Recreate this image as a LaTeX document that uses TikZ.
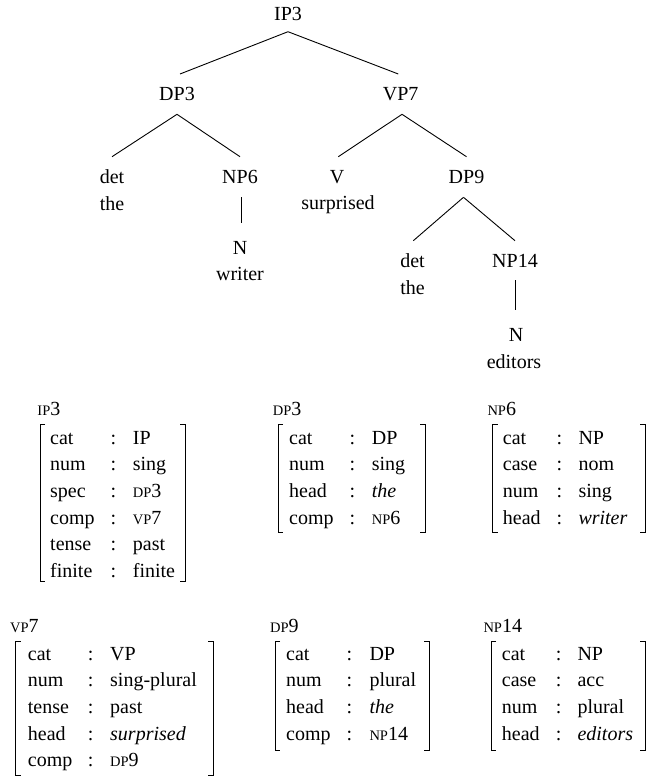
\documentclass[tikz,border=0pt]{standalone}
\usepackage{fontspec}
\setmainfont{Liberation Serif}
\newcommand\fsc[1]{{\fontsize{14.5}{16}\selectfont #1}}
% rows of a feature structure: name, attr x, colon x, value x, first baseline, list
\newcommand\fsrows[6]{%
  \foreach \a/\v [count=\i from 0] in {#6} {
    \node[fs, anchor=base west] (#1a\i) at (#2, {#5+26.67*\i}) {\a};
    \node[fs, anchor=base] (#1c\i) at (#3, {#5+26.67*\i}) {:};
    \node[fs, anchor=base west] (#1v\i) at (#4, {#5+26.67*\i}) {\v};
  }}
% brackets: left x, right x, top y, bottom y
\newcommand\fsbrk[4]{%
  \draw[brk] ({#1+5},#3) -- (#1,#3) -- (#1,#4) -- ({#1+5},#4);
  \draw[brk] ({#2-5},#3) -- (#2,#3) -- (#2,#4) -- ({#2-5},#4);}
\begin{document}
\begin{tikzpicture}[x=1pt, y=-1pt,
  tn/.style={font=\fontsize{20}{24}\selectfont, inner sep=0pt, anchor=base},
  fs/.style={font=\fontsize{20}{24}\selectfont, inner sep=0pt},
  edge/.style={line width=0.9pt},
  brk/.style={line width=1pt}]
\useasboundingbox (0,0) rectangle (648,777);

% ---- tree ----
\node[tn] (ip3) at (288,20.7) {IP3};
\node[tn] (dp3) at (177,100) {DP3};
\node[tn] (vp7) at (400.7,100) {VP7};
\node[tn] (det1) at (112,183.3) {det};
\node[tn] (the1) at (112,210) {the};
\node[tn] (np6) at (240,183.3) {NP6};
\node[tn] (n1) at (240,254) {N};
\node[tn] (writer) at (240,280.7) {writer};
\node[tn] (v) at (337,183.3) {V};
\node[tn] (surprised) at (338,209.3) {surprised};
\node[tn] (dp9) at (466.5,183.3) {DP9};
\node[tn] (det2) at (412.5,267.3) {det};
\node[tn] (the2) at (412.5,294) {the};
\node[tn] (np14) at (515,267.3) {NP14};
\node[tn] (n2) at (516,341.7) {N};
\node[tn] (editors) at (514,368.3) {editors};

\draw[edge] ([yshift=-11pt]ip3.base) -- ([xshift=3pt,yshift=26pt]dp3.base);
\draw[edge] ([yshift=-11pt]ip3.base) -- ([xshift=-2.4pt,yshift=26pt]vp7.base);
\draw[edge] ([yshift=-14.3pt]dp3.base) -- ([yshift=26.6pt]det1.base);
\draw[edge] ([yshift=-14.3pt]dp3.base) -- ([yshift=26.6pt]np6.base);
\draw[edge] ([xshift=1.3pt,yshift=-14.3pt]vp7.base) -- ([xshift=1.3pt,yshift=26.6pt]v.base);
\draw[edge] ([xshift=1.3pt,yshift=-14.3pt]vp7.base) -- ([yshift=26.6pt]dp9.base);
\draw[edge] ([xshift=1pt,yshift=-14pt]np6.base) -- ([xshift=1pt,yshift=30.7pt]n1.base);
\draw[edge] ([xshift=-3pt,yshift=-14pt]dp9.base) -- ([xshift=0.8pt,yshift=26.6pt]det2.base);
\draw[edge] ([xshift=-3pt,yshift=-14pt]dp9.base) -- ([yshift=26.6pt]np14.base);
\draw[edge] ([yshift=-13pt]np14.base) -- ([xshift=-1pt,yshift=31.7pt]n2.base);

% ---- feature structures ----
\node[fs, anchor=base west] (lip3) at (37.3,415) {\fsc{IP}3};
\fsbrk{40}{185}{424}{581}
\fsrows{ip}{50}{113.3}{132.7}{444}{cat/IP, num/sing, spec/\fsc{DP}3, comp/\fsc{VP}7, tense/past, finite/finite}

\node[fs, anchor=base west] (ldp3) at (272.7,415) {\fsc{DP}3};
\fsbrk{278}{425}{424}{532}
\fsrows{dpa}{289}{352.3}{371.7}{444}{cat/DP, num/sing, head/\textit{the}, comp/\fsc{NP}6}

\node[fs, anchor=base west] (lnp6) at (487.3,415) {\fsc{NP}6};
\fsbrk{492.7}{645}{424}{532}
\fsrows{npa}{502.7}{559.3}{578.3}{444}{cat/NP, case/nom, num/sing, head/\textit{writer}}

\node[fs, anchor=base west] (lvp7) at (10,632.5) {\fsc{VP}7};
\fsbrk{15.7}{213.3}{641}{775}
\fsrows{vp}{27.7}{90.7}{110}{660.3}{cat/VP, num/sing-plural, tense/past, head/\textit{surprised}, comp/\fsc{DP}9}

\node[fs, anchor=base west] (ldp9) at (270,632.5) {\fsc{DP}9};
\fsbrk{275}{429.3}{641.5}{750}
\fsrows{dpb}{286}{349.3}{369.3}{660}{cat/DP, num/plural, head/\textit{the}, comp/\fsc{NP}14}

\node[fs, anchor=base west] (lnp14) at (483.3,632.5) {\fsc{NP}14};
\fsbrk{491}{645}{641.5}{750}
\fsrows{npb}{501.7}{558.7}{577.3}{660}{cat/NP, case/acc, num/plural, head/\textit{editors}}
\end{tikzpicture}
\end{document}
